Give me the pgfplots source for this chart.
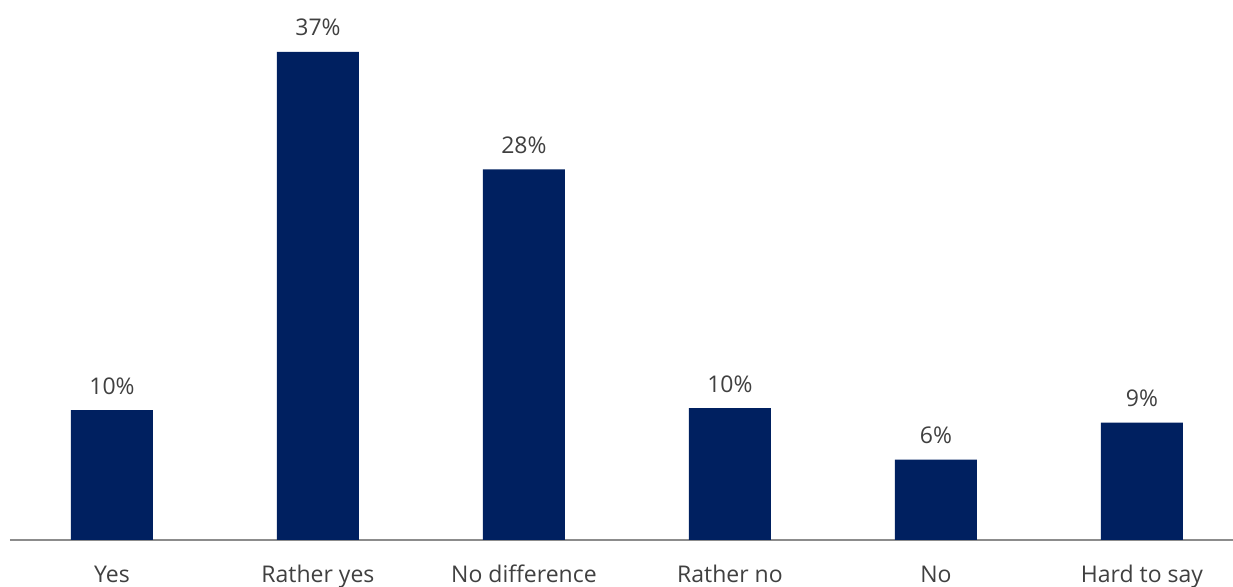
\documentclass[border=0pt]{standalone}
\usepackage{pgfplots}
\pgfplotsset{compat=1.18}
\usepackage{fontspec}
\setmainfont{Open Sans}
\definecolor{barblue}{HTML}{002060}
\definecolor{txt}{HTML}{404040}
\definecolor{axgray}{HTML}{8C8C8C}
\begin{document}
\begin{tikzpicture}[x=1pt,y=1pt]
\path[use as bounding box] (0,0) rectangle (1233,586);
\begin{axis}[
  at={(10pt,46pt)}, anchor=south west,
  scale only axis, width=1223pt, height=540pt,
  xmin=-0.495, xmax=5.442, ymin=0, ymax=40.94,
  axis x line=bottom, axis y line=none,
  x axis line style={-, axgray, line width=2pt},
  xtick=data,
  xticklabels={Yes, Rather yes, No difference, Rather no, No, Hard to say},
  major tick length=0pt,
  xticklabel style={font=\fontsize{23}{27}\selectfont, text=txt, anchor=base, yshift=-42pt},
  ybar, bar width=82pt,
  /pgf/number format/assume math mode=true,
  nodes near coords={\pgfmathprintnumber[fixed,precision=0,assume math mode=true]{\pgfplotspointmeta}\%},
  every node near coord/.append style={font=\fontsize{23}{27}\selectfont, text=txt, anchor=base, yshift=16pt},
  clip=false,
]
\addplot[fill=barblue, draw=none] coordinates {
  (0,9.85) (1,37) (2,28.1) (3,10.0) (4,6.1) (5,8.9)
};
\end{axis}
\end{tikzpicture}
\end{document}
